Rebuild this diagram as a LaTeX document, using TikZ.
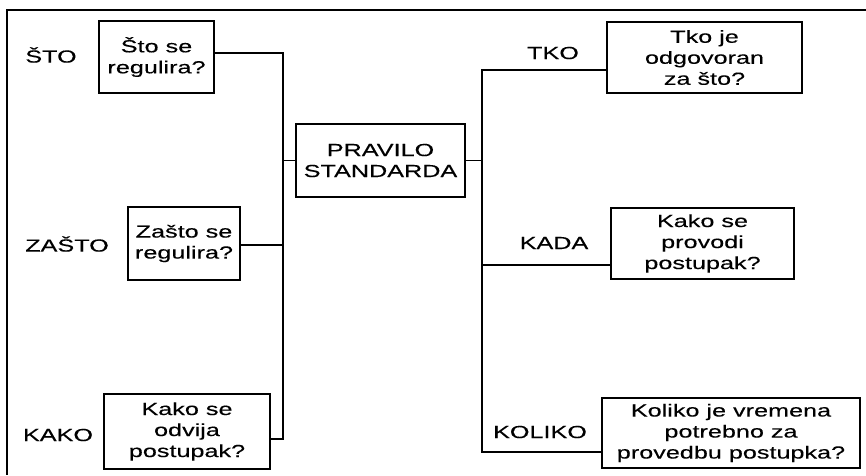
\documentclass[tikz,border=0pt]{standalone}
\usepackage{fontspec}
\setmainfont[FakeStretch=1.44,FakeBold=0.25]{Liberation Sans}
\begin{document}
\begin{tikzpicture}[x=1pt,y=-1pt,
  every node/.style={font=\fontsize{17.5}{21}\selectfont},
  box/.style={draw,line width=1.1pt,rectangle,inner sep=0pt,align=center},
  lab/.style={inner sep=0pt},
  conn/.style={line width=1.1pt}]
\useasboundingbox (0,0) rectangle (866,475);
% frame (cropped)
\draw[line width=1.1pt] (866,10) -- (7,10) -- (7,475);
% boxes
\node[box,minimum width=115pt,minimum height=72pt] (s1) at (156.5,57) {Što se\\regulira?};
\node[box,minimum width=112pt,minimum height=73pt] (s2) at (184,243.5) {Zašto se\\regulira?};
\node[box,minimum width=166pt,minimum height=75pt] (s3) at (187,431.5) {Kako se\\odvija\\postupak?};
\node[box,minimum width=169pt,minimum height=73pt] (c) at (380.5,160.5) {PRAVILO\\STANDARDA};
\node[box,minimum width=195pt,minimum height=71pt] (r1) at (704.5,57.5) {Tko je\\odgovoran\\za što?};
\node[box,minimum width=183pt,minimum height=71pt] (r2) at (702.5,243.5) {Kako se\\provodi\\postupak?};
\node[box,minimum width=258pt,minimum height=70pt] (r3) at (731,433) {Koliko je vremena\\potrebno za\\provedbu postupka?};
% labels
\node[lab] (ls1) at (51,55) {ŠTO};
\node[lab] (ls2) at (67,244) {ZAŠTO};
\node[lab] (ls3) at (58,435) {KAKO};
\node[lab] (lr1) at (553,53) {TKO};
\node[lab] (lr2) at (554,243) {KADA};
\node[lab] (lr3) at (540,432) {KOLIKO};
% bus coordinates
\coordinate (L1) at (283,53);
\coordinate (L2) at (283,245);
\coordinate (L3) at (283,439);
\coordinate (R1) at (482,70);
\coordinate (R2) at (482,265);
\coordinate (R3) at (482,452);
% connectors
\draw[conn] (s1.east |- L1) -- (L1) -- (L3) -- (s3.east |- L3);
\draw[conn] (s2.east |- L2) -- (L2);
\draw[conn] (L1 |- c.west) -- (c.west);
\draw[conn] (c.east) -- (R1 |- c.east);
\draw[conn] (r1.west |- R1) -- (R1) -- (R3) -- (r3.west |- R3);
\draw[conn] (R2) -- (r2.west |- R2);
\end{tikzpicture}
\end{document}
